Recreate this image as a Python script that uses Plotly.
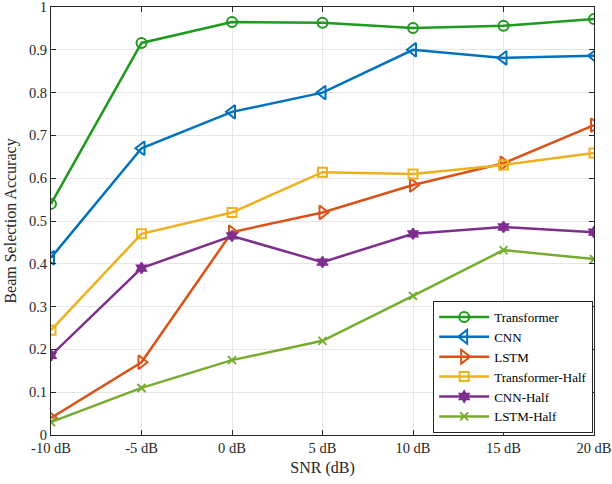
import plotly.graph_objects as go

snr = [-10, -5, 0, 5, 10, 15, 20]
snr_labels = ['-10 dB', '-5 dB', '0 dB', '5 dB', '10 dB', '15 dB', '20 dB']

transformer = [0.540, 0.916, 0.965, 0.963, 0.951, 0.956, 0.972]
cnn = [0.414, 0.670, 0.755, 0.800, 0.900, 0.881, 0.886]
lstm = [0.040, 0.170, 0.474, 0.520, 0.584, 0.635, 0.724]
transformer_half = [0.245, 0.470, 0.520, 0.614, 0.610, 0.631, 0.659]
cnn_half = [0.186, 0.390, 0.465, 0.404, 0.470, 0.486, 0.474]
lstm_half = [0.030, 0.110, 0.175, 0.220, 0.325, 0.432, 0.411]

series = [
    ('Transformer', transformer, '#1E9A1E', 'circle-open', 10),
    ('CNN', cnn, '#0072BD', 'triangle-left-open', 12),
    ('LSTM', lstm, '#D95319', 'triangle-right-open', 12),
    ('Transformer-Half', transformer_half, '#EDB120', 'square-open', 9),
    ('CNN-Half', cnn_half, '#7E2F8E', 'hexagram', 8),
    ('LSTM-Half', lstm_half, '#77AC30', 'x-thin-open', 8),
]

SERIF = 'Liberation Serif'

fig = go.Figure()
for name, vals, color, sym, size in series:
    fig.add_trace(go.Scatter(
        x=snr, y=vals, name=name,
        mode='lines+markers',
        line=dict(color=color, width=2.5),
        marker=dict(symbol=sym, size=size, color=color,
                    line=dict(color=color, width=2)),
    ))

axis_common = dict(
    showline=True, linecolor='#262626', linewidth=1, mirror='ticks',
    ticks='inside', ticklen=5, tickcolor='#262626',
    showgrid=True, gridcolor='#E6E6E6', gridwidth=1,
    zeroline=False, automargin=False, ticklabeloverflow='allow',
    tickfont=dict(family=SERIF, size=14.5, color='#262626'),
)

fig.update_layout(
    width=612, height=484,
    paper_bgcolor='white', plot_bgcolor='white',
    margin=dict(l=51, r=18, t=7, b=49),
    font=dict(family=SERIF, size=15, color='#262626'),
    xaxis=dict(
        range=[-10, 20], tickvals=snr, ticktext=snr_labels,
        title=dict(text='SNR (dB)', standoff=6,
                   font=dict(family=SERIF, size=16, color='#262626')),
        **axis_common,
    ),
    yaxis=dict(
        range=[0, 1], dtick=0.1, tickformat='.1~f',
        title=dict(text='Beam Selection Accuracy', standoff=8,
                   font=dict(family=SERIF, size=16, color='#262626')),
        **axis_common,
    ),
    legend=dict(
        x=0.9985, y=0.159, xanchor='right', yanchor='middle',
        bgcolor='white', bordercolor='#262626', borderwidth=1,
        font=dict(family=SERIF, size=13, color='#000000'),
        tracegroupgap=0, itemwidth=50,
    ),
    showlegend=True,
)

fig.write_html('out.html', config={'displayModeBar': False},
               post_script="document.body.style.margin='0';document.body.style.padding='0';")
